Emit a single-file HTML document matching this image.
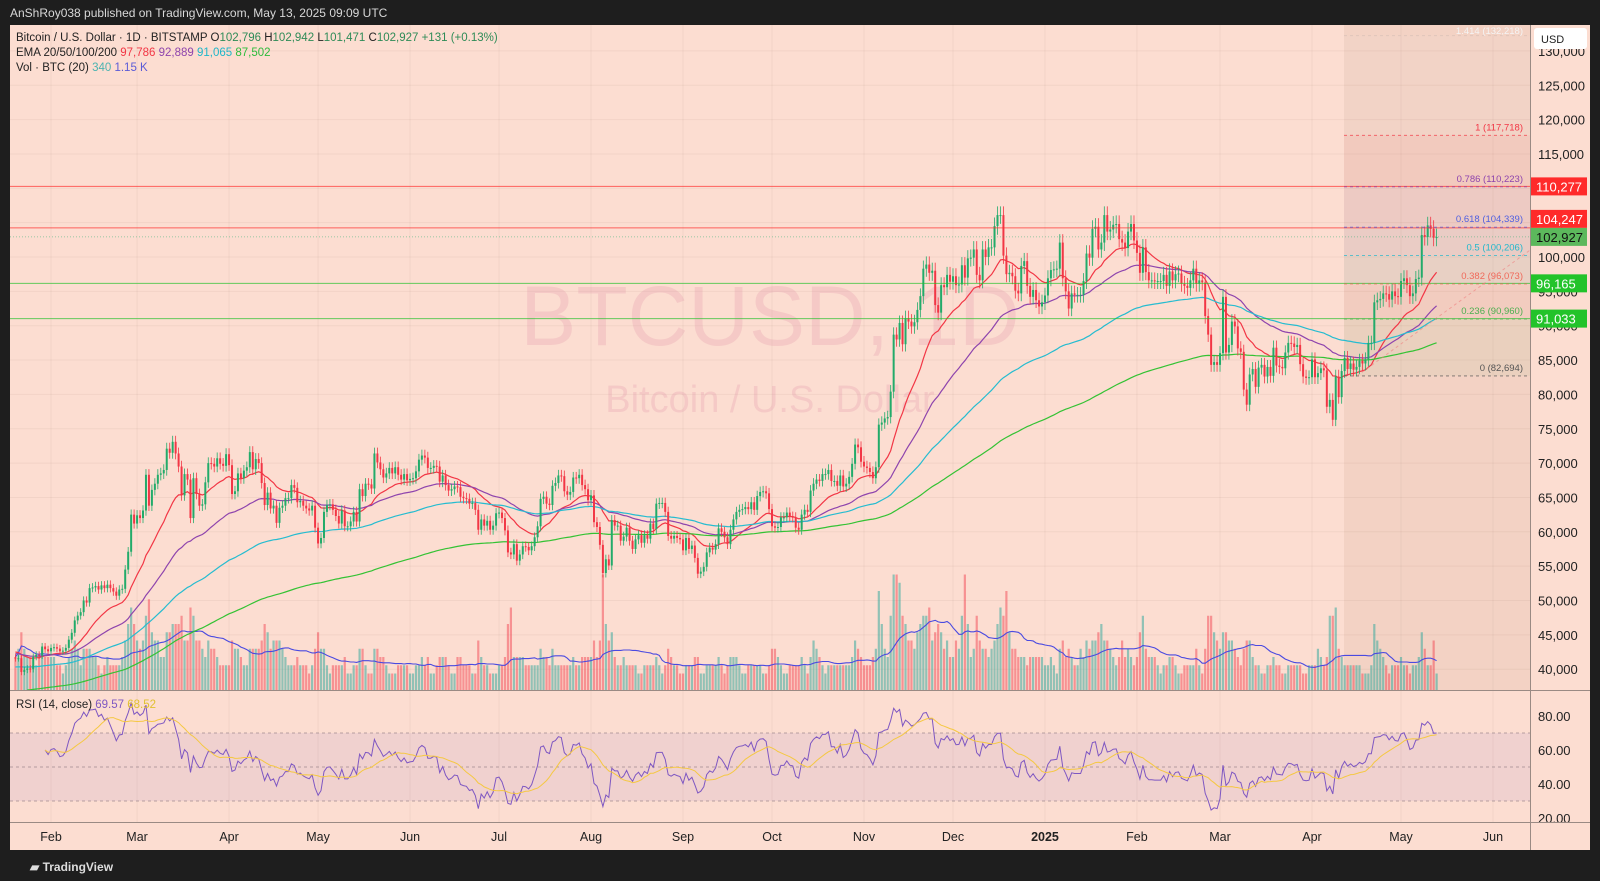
<!DOCTYPE html>
<html><head><meta charset="utf-8"><style>
html,body{margin:0;padding:0;background:#1e1e1e;width:1600px;height:881px;overflow:hidden}
svg{display:block;font-family:"Liberation Sans",sans-serif}
</style></head><body>
<svg id="c" width="1600" height="881" viewBox="0 0 1600 881">
<rect x="0" y="0" width="1600" height="881" fill="#1e1e1e"/>
<text x="10" y="17" fill="#d8d8d8" font-size="12">AnShRoy038 published on TradingView.com, May 13, 2025 09:09 UTC</text>
<rect x="10" y="25" width="1580" height="825" fill="#fcddd1"/>
<g id="grid"></g>
<rect x="1344" y="25" width="186" height="665" fill="rgba(150,95,70,0.09)"/>
<g id="fibbands"></g>
<text x="770" y="345" text-anchor="middle" font-size="84" fill="rgba(225,150,170,0.28)">BTCUSD, 1D</text>
<text x="770" y="412" text-anchor="middle" font-size="38" fill="rgba(225,150,170,0.28)">Bitcoin / U.S. Dollar</text>
<g id="rsiband"></g>
<g id="vol"></g>
<g id="lines"></g>
<g id="candles"></g>
<g id="fib"></g>
<g id="rsi"></g>
<g id="ticks"></g>
<g id="axes"></g>
<line x1="10" y1="690.5" x2="1590" y2="690.5" stroke="#9a8a84" stroke-width="1"/>
<line x1="10" y1="822.5" x2="1590" y2="822.5" stroke="#9a8a84" stroke-width="1"/>
<line x1="1530.5" y1="25" x2="1530.5" y2="850" stroke="#9a8a84" stroke-width="1"/>
<g font-size="11.5">
<text x="16" y="41" fill="#222">Bitcoin / U.S. Dollar · 1D · BITSTAMP <tspan fill="#222">O</tspan><tspan fill="#2e8b57">102,796</tspan> <tspan fill="#222">H</tspan><tspan fill="#2e8b57">102,942</tspan> <tspan fill="#222">L</tspan><tspan fill="#2e8b57">101,471</tspan> <tspan fill="#222">C</tspan><tspan fill="#2e8b57">102,927</tspan> <tspan fill="#2e8b57">+131 (+0.13%)</tspan></text>
<text x="16" y="56" fill="#222">EMA 20/50/100/200 <tspan fill="#f23645">97,786</tspan> <tspan fill="#8e44ad">92,889</tspan> <tspan fill="#1fb6c9">91,065</tspan> <tspan fill="#2dbb3c">87,502</tspan></text>
<text x="16" y="71" fill="#222">Vol · BTC (20) <tspan fill="#4bb3b0">340</tspan> <tspan fill="#5b5bd6">1.15 K</tspan></text>
<text x="16" y="708" fill="#222">RSI (14, close) <tspan fill="#7e57c2">69.57</tspan> <tspan fill="#e0c030">68.52</tspan></text>
</g>
<rect x="1534" y="28" width="53" height="21" rx="3" fill="#fff"/>
<text x="1541" y="43" font-size="11" fill="#222">USD</text>
<text x="30" y="871" font-size="12" fill="#ddd" font-weight="bold">▰ TradingView</text>
</svg>
<script>
const closes = [
41.6,41.6,39.6,39.9,40.1,40.0,41.8,42.1,42.0,43.3,42.9,42.6,
43.1,43.2,43.0,42.6,42.7,43.1,44.3,45.3,47.1,47.8,48.3,50.0,49.7,51.8,51.9,52.1,51.6,52.2,51.8,52.3,51.8,51.3,50.7,51.6,51.7,54.5,57.1,62.5,61.2,
62.4,62.0,63.1,68.3,63.8,66.1,67.0,68.3,68.5,69.0,72.1,71.5,73.1,71.4,69.5,65.3,68.4,67.6,62.0,67.8,65.5,63.8,64.0,67.2,70.0,69.9,69.5,70.7,69.9,69.6,71.3,
69.7,65.5,65.9,68.5,67.8,68.9,69.4,71.6,69.1,70.6,70.0,67.1,63.9,65.7,63.4,63.8,61.3,63.5,63.8,64.9,64.9,66.8,66.4,64.3,64.5,63.8,63.4,63.1,63.8,60.6,
58.3,59.1,62.9,63.9,64.0,63.2,62.3,61.2,63.1,60.8,60.8,61.5,62.9,61.5,66.2,65.2,67.0,66.9,66.3,71.4,70.1,69.1,67.9,68.5,69.3,68.5,69.4,68.3,67.6,68.4,67.5,
67.7,67.8,68.8,70.5,71.1,70.8,69.3,69.3,69.6,69.5,67.3,68.2,66.8,66.0,66.2,66.6,66.5,65.1,64.9,64.8,64.1,64.2,63.2,60.3,61.8,60.9,61.6,60.3,60.9,62.7,
62.8,62.0,60.2,57.0,56.7,58.2,55.8,56.7,57.9,57.8,57.3,57.9,59.2,60.8,64.8,65.1,64.1,63.9,66.7,67.1,68.2,68.1,65.9,65.4,65.8,67.9,67.8,68.3,66.8,66.2,64.6,
65.3,61.4,60.7,58.1,54.0,56.0,55.1,61.7,60.9,60.9,58.7,59.3,60.6,58.7,57.5,58.9,59.5,58.4,59.5,59.0,61.2,60.4,64.1,64.2,64.2,62.9,59.4,59.0,59.4,59.1,58.9,
57.3,59.1,57.5,58.0,56.2,53.9,54.2,54.9,57.0,57.7,57.4,58.2,60.5,60.0,59.2,58.2,60.3,61.8,62.9,63.2,63.3,63.6,63.3,64.3,63.2,65.2,65.8,65.9,65.6,63.3,
60.8,60.6,60.7,62.1,62.1,62.8,62.2,62.1,60.6,60.3,62.5,63.2,62.9,66.0,67.0,67.6,67.4,68.4,68.4,69.0,67.4,67.4,66.7,68.2,66.6,67.0,68.0,69.9,72.7,72.3,70.2,
69.5,69.3,68.7,67.8,69.4,75.6,75.9,76.5,76.7,80.4,88.7,88.0,90.4,87.3,91.1,90.6,89.9,90.5,92.3,94.3,98.3,98.9,97.7,98.0,93.0,91.9,95.9,95.6,97.4,96.4,
97.2,95.9,96.0,98.8,97.0,99.8,99.9,101.1,97.4,96.6,101.1,100.0,101.4,101.4,104.5,106.1,106.1,100.2,97.5,97.7,97.2,95.1,94.7,98.7,99.4,95.8,94.2,95.2,93.7,92.8,93.4,
94.4,96.9,98.1,98.2,98.3,102.1,96.9,95.0,92.5,94.7,94.5,94.5,94.5,96.5,100.5,99.9,104.1,104.4,101.1,102.1,106.1,103.7,104.0,104.7,104.8,102.6,102.1,101.3,103.7,104.8,102.4,
100.6,97.7,101.4,97.8,96.6,96.6,96.5,96.5,96.5,97.4,95.8,97.9,96.6,97.5,97.6,96.1,95.8,95.5,96.6,98.3,96.1,96.6,96.3,91.4,88.7,84.3,84.7,84.3,
86.0,94.2,86.1,87.2,90.6,89.9,86.7,86.2,80.7,78.5,82.9,83.7,81.1,83.9,84.3,82.6,84.0,82.7,86.8,84.2,84.0,83.8,86.1,87.5,87.4,86.9,87.2,84.4,82.6,82.4,82.5,
85.1,82.5,83.1,83.8,83.5,78.2,79.2,76.3,82.6,79.6,83.4,85.3,83.7,84.5,83.6,84.0,84.9,84.5,85.1,87.5,87.5,93.4,93.7,93.9,94.7,94.6,93.8,95.0,94.3,94.2,
96.5,96.9,95.9,94.3,94.7,96.8,97.0,103.2,102.9,104.6,104.1,102.8,102.9];
const volumes = [
4,5,7,5,4,4,3,3,4,5,4,4,
4,4,3,3,2,3,4,5,6,5,3,5,5,5,4,4,3,2,3,4,3,3,3,3,4,6,8,10,8,
6,5,6,9,11,7,6,6,4,4,7,7,8,8,8,9,6,6,10,9,6,6,5,4,6,5,5,4,3,3,3,
3,6,5,5,4,3,3,5,5,5,5,6,8,7,5,6,6,6,5,4,3,3,3,4,3,3,3,2,3,5,
7,5,5,3,2,3,3,3,3,4,2,2,3,3,5,5,3,2,2,5,5,4,4,3,2,2,2,3,3,3,3,
2,2,3,3,4,3,4,2,2,3,4,4,4,3,2,2,4,4,3,3,3,2,2,6,4,3,3,2,2,2,
3,3,4,8,10,4,4,4,4,3,3,3,3,3,5,4,4,3,5,3,3,3,3,3,3,4,3,3,4,4,4,
4,6,4,6,14,8,6,7,4,3,3,4,3,3,3,3,2,2,3,3,3,3,4,3,2,3,5,4,3,3,2,
2,3,3,3,4,4,2,2,3,3,3,3,4,3,2,3,4,4,4,3,2,2,3,3,3,3,3,2,2,3,
5,5,4,3,2,2,3,3,3,3,4,3,2,4,6,5,4,3,2,3,3,3,3,3,3,3,3,4,6,5,4,
3,3,3,4,5,12,8,5,4,9,14,14,13,9,8,6,6,5,7,8,9,9,10,6,7,8,7,5,6,4,
4,6,5,9,14,8,4,5,9,6,5,5,4,5,6,8,10,9,12,7,5,5,4,4,4,3,4,4,4,4,4,
3,3,4,3,2,5,6,4,5,4,3,3,5,4,6,5,6,6,7,8,6,6,5,4,3,4,6,4,5,4,3,
4,7,9,5,4,4,4,3,2,3,3,4,4,3,2,2,3,3,3,3,5,3,2,5,9,9,7,6,
5,7,7,6,6,5,4,3,5,6,6,4,3,3,2,2,3,3,4,3,3,2,2,3,3,3,3,3,2,2,3,
3,3,5,4,3,4,9,9,10,5,4,3,3,3,3,3,3,2,2,2,3,8,6,5,4,3,2,3,3,3,
4,3,3,2,3,3,4,7,5,3,3,6,2];
const firstOpen = [41.7];
const emaPeriods = [20,50,100,200];
const emaSeeds = [42.6,42.3,40.3,36.8];
const emaColors = ['#f23645','#8e44ad','#26bcd0','#34c234'];
const priceTicks = [130,125,120,115,110,105,100,95,90,85,80,75,70,65,60,55,50,45,40];
const rsiTicks = [80,60,40,20];
const monthLabels = ['Feb','Mar','Apr','May','Jun','Jul','Aug','Sep','Oct','Nov','Dec','2025','Feb','Mar','Apr','May','Jun'];
const monthStarts = [12,41,72,102,133,163,194,225,255,286,316,347,378,406,437,467,498];
const fibRatios = ['1.414','1','0.786','0.618','0.5','0.382','0.236','0'];
const fibPrices = [132.218,117.718,110.223,104.339,100.206,96.073,90.960,82.694];
const fibColors = ['#f4f4f4','#f23645','#8e44ad','#5060e0','#22b8cc','#f06a5a','#4caf50','#555'];
const levelPrices = [110.277,104.247,96.165,91.033];
const levelColors = ['#ff2a2a','#ff2a2a','#22c32a','#22c32a'];
const lastPrice = [102.927];

const NS='http://www.w3.org/2000/svg';
const xD = i => 1312 + (i-437)*2.967;
const yP = p => 257 + (100-p)*6.87;
const yR = v => 716 + (80-v)*1.7;
const yV = v => 690 - v*8.25;
function mk(parent,tag,attrs){const e=document.createElementNS(NS,tag);for(const k in attrs)e.setAttribute(k,attrs[k]);document.getElementById(parent).appendChild(e);return e;}
const fmt = k => Math.round(k*1000).toLocaleString('en-US');

monthStarts.forEach(i=>{const g=mk('grid','line',{x1:xD(i),x2:xD(i),y1:25,y2:822,stroke:'rgba(120,80,70,0.07)'});

});
priceTicks.forEach(p=>{const g=mk('grid','line',{x1:10,x2:1530,y1:yP(p),y2:yP(p),stroke:'rgba(120,80,70,0.07)'});

});

for(let k=0;k<fibPrices.length-1;k++){
 const r=mk('fibbands','rect',{x:1344,width:186,y:yP(fibPrices[k]),height:yP(fibPrices[k+1])-yP(fibPrices[k]),fill:fibColors[k],opacity:0.05});
 
 
}

const rb=mk('rsiband','rect',{x:10,width:1520,y:yR(70),height:yR(30)-yR(70),fill:'rgba(126,87,194,0.09)'});


[70,50,30].forEach(v=>{const l=mk('rsiband','line',{x1:10,x2:1530,y1:yR(v),y2:yR(v),stroke:'#a08a90','stroke-dasharray':'3 3','stroke-width':0.8});

});

const opens=closes.map((c,i)=>i===0?firstOpen[0]:closes[i-1]);
closes.forEach((c,i)=>{
 const o=opens[i],up=c>=o,col=up?'#22ab6a':'#f23645';
 const x=xD(i);
 const v=mk('vol','rect',{x:x-1.1,width:2.2,y:yV(volumes[i]),height:volumes[i]*8.25,fill:up?'rgba(38,166,154,0.5)':'rgba(242,54,69,0.45)'});
 
 
 const hi=Math.max(o,c)*1.012,lo=Math.min(o,c)*0.988;
 const w=mk('candles','line',{x1:x,x2:x,y1:yP(hi),y2:yP(lo),stroke:col,'stroke-width':0.8});
 
 
 const b=mk('candles','rect',{x:x-1,width:2,y:yP(Math.max(o,c)),height:Math.max(1,Math.abs(yP(o)-yP(c))),fill:col});
 
 
});

let vpts=[];
volumes.forEach((v,i)=>{const s=volumes.slice(Math.max(0,i-19),i+1);const m=s.reduce((a,b)=>a+b,0)/s.length;vpts.push(xD(i).toFixed(1)+','+yV(m).toFixed(1));});
const vm=mk('lines','polyline',{points:vpts.join(' '),fill:'none',stroke:'#4a4ae0','stroke-width':1.1});



emaPeriods.forEach((n,k)=>{
 const a=2/(n+1);let e=emaSeeds[k];const pts=[];
 closes.forEach((c,i)=>{e=a*c+(1-a)*e;const y=yP(e);if(y<690)pts.push(xD(i).toFixed(1)+','+y.toFixed(1));});
 const l=mk('lines','polyline',{points:pts.join(' '),fill:'none',stroke:emaColors[k],'stroke-width':1.2});
 
 
});

priceTicks.forEach(p=>{const y=yP(p);
 const t=mk('ticks','text',{x:1538,y:y+5,'font-size':13,fill:'#222'});t.textContent=fmt(p);
 
 });
rsiTicks.forEach(v=>{const t=mk('ticks','text',{x:1538,y:yR(v)+5,'font-size':13,fill:'#222'});t.textContent=v.toFixed(2);
 
 });

const yLast=yP(lastPrice[0]);
levelPrices.forEach((p,k)=>{
 const l=mk('fib','line',{x1:10,x2:1530,y1:yP(p),y2:yP(p),stroke:levelColors[k],'stroke-width':1,opacity:0.7});
 
 
 let cy=yP(p);
 if(Math.abs(cy-yLast)<19) cy=yLast-18;
 const r=mk('axes','rect',{x:1530,y:cy-9,width:57,height:18,fill:levelColors[k]});
 
 
 const t=mk('axes','text',{x:1536,y:cy+5,'font-size':13,fill:'#fff'});t.textContent=fmt(p);
 
 
});
const cp=mk('fib','line',{x1:10,x2:1530,y1:yLast,y2:yLast,stroke:'#22ab6a','stroke-width':0.8,'stroke-dasharray':'1 2',opacity:0.6});



fibPrices.forEach((p,k)=>{
 const l=mk('fib','line',{x1:1344,x2:1530,y1:yP(p),y2:yP(p),stroke:fibColors[k]==='#f4f4f4'?'#d8c0b8':fibColors[k],'stroke-dasharray':'3 3','stroke-width':0.9,opacity:0.8});
 
 
 const t=mk('fib','text',{x:1523,y:Math.max(yP(p)-5,34),'text-anchor':'end','font-size':9.5,fill:fibColors[k]});
 t.textContent=fibRatios[k]+' ('+fmt(p)+')';
 
 
});
const tl=mk('fib','line',{x1:1357,y1:yP(fibPrices[7]),x2:1530,y2:yP(101),stroke:'#f08080','stroke-dasharray':'3 3',opacity:0.6});



let ag=0,al=0;const rsi=[];
for(let i=1;i<closes.length;i++){const d=closes[i]-closes[i-1];const g=Math.max(d,0),l=Math.max(-d,0);
 if(i<=14){ag+=g/14;al+=l/14;}else{ag=(ag*13+g)/14;al=(al*13+l)/14;}
 if(i>=10)rsi.push([i,100-100/(1+ag/Math.max(al,1e-6))]);}
const rp=rsi.map(r=>xD(r[0]).toFixed(1)+','+yR(r[1]).toFixed(1));
const rl=mk('rsi','polyline',{points:rp.join(' '),fill:'none',stroke:'#7e57c2','stroke-width':1});


const mp=[];rsi.forEach((r,j)=>{const s=rsi.slice(Math.max(0,j-13),j+1);const m=s.reduce((a,b)=>a+b[1],0)/s.length;mp.push(xD(r[0]).toFixed(1)+','+yR(m).toFixed(1));});
const ml=mk('rsi','polyline',{points:mp.join(' '),fill:'none',stroke:'#f5c842','stroke-width':1});



monthLabels.forEach((m,k)=>{const t=mk('axes','text',{x:xD(monthStarts[k]),y:841,'font-size':12.5,fill:'#222','text-anchor':'middle','font-weight':m==='2025'?'bold':'normal'});t.textContent=m;
 
 });
const lr=mk('axes','rect',{x:1530,y:yLast-9,width:57,height:18,fill:'#5cb85c'});


const lt=mk('axes','text',{x:1536,y:yLast+5,'font-size':13,fill:'#111'});lt.textContent=fmt(lastPrice[0]);


</script>
</body></html>
